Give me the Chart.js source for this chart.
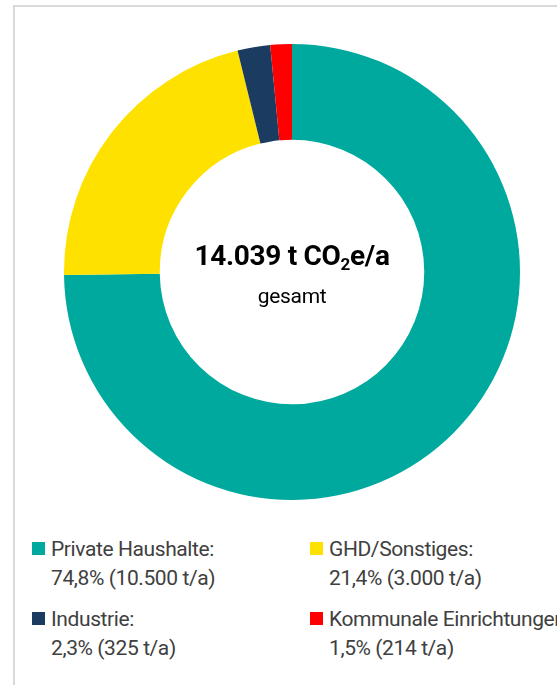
<!DOCTYPE html>
<html lang="de">
<head>
    <meta charset="UTF-8">
    <title>CO2-Emissionen nach Sektoren</title>
    <script src="https://cdn.jsdelivr.net/npm/chart.js"></script>
    <style>
        body { margin: 0; background: #fff; width: 557px; height: 685px; overflow: hidden; position: relative; }
        .frame { position: absolute; left: 13px; top: 5px; width: 600px; height: 700px; border: 2px solid #d9d9d9; box-sizing: border-box; }
        .chart-box { position: absolute; left: 64px; top: 44px; width: 456px; height: 456px; }
        .center { position: absolute; left: 92px; top: 239px; width: 400px; text-align: center; color: #000; }
        .center .total { font-family: "Roboto", sans-serif; font-weight: bold; font-size: 28px; line-height: 34px; letter-spacing: -0.3px; }
        .center .total sub { font-size: 17px; vertical-align: -5px; line-height: 0; }
        .center .sub { font-family: "Roboto", sans-serif; font-size: 21px; margin-top: 11px; letter-spacing: -0.3px; }
        .legend { position: absolute; left: 32px; top: 535px; display: grid; grid-template-columns: 278px 260px; row-gap: 12px;
                  font-family: "Roboto", sans-serif; font-size: 21px; line-height: 29px; color: #404040; letter-spacing: -0.4px; }
        .legend .item { position: relative; padding-left: 19px; white-space: nowrap; }
        .legend .box { position: absolute; left: 0; top: 7px; width: 13px; height: 13px; }
    </style>
</head>
<body>
    <div class="frame"></div>
    <div class="chart-box"><canvas id="donut"></canvas></div>
    <div class="center">
        <div class="total" id="totalLabel"></div>
        <div class="sub">gesamt</div>
    </div>
    <div class="legend" id="legend"></div>

    <script>
        // Sektoren und Emissionen (t CO2e/a)
        const sectors = ['Private Haushalte', 'GHD/Sonstiges', 'Industrie', 'Kommunale Einrichtungen'];
        const emissions = [10500, 3000, 325, 214];
        const shares = ['74,8%', '21,4%', '2,3%', '1,5%'];
        const colors = ['#00A99D', '#FFE100', '#1B3B60', '#FF0000'];
        const totalText = '14.039';

        document.getElementById('totalLabel').innerHTML = totalText + ' t CO<sub>2</sub>e/a';

        const ctx = document.getElementById('donut').getContext('2d');
        new Chart(ctx, {
            type: 'doughnut',
            data: {
                labels: sectors,
                datasets: [{
                    data: emissions,
                    backgroundColor: colors,
                    borderWidth: 0
                }]
            },
            options: {
                responsive: true,
                maintainAspectRatio: false,
                animation: false,
                cutout: '58%',
                layout: { padding: 0 },
                plugins: {
                    legend: { display: false },
                    tooltip: { enabled: false }
                }
            }
        });

        // Legend (two columns, two lines per entry)
        const fmt = v => v.toLocaleString('de-DE');
        const legend = document.getElementById('legend');
        sectors.forEach((name, i) => {
            const item = document.createElement('div');
            item.className = 'item';
            item.innerHTML = '<span class="box" style="background:' + colors[i] + '"></span>' +
                name + ':<br>' + shares[i] + ' (' + fmt(emissions[i]) + ' t/a)';
            legend.appendChild(item);
        });
    </script>
</body>
</html>
